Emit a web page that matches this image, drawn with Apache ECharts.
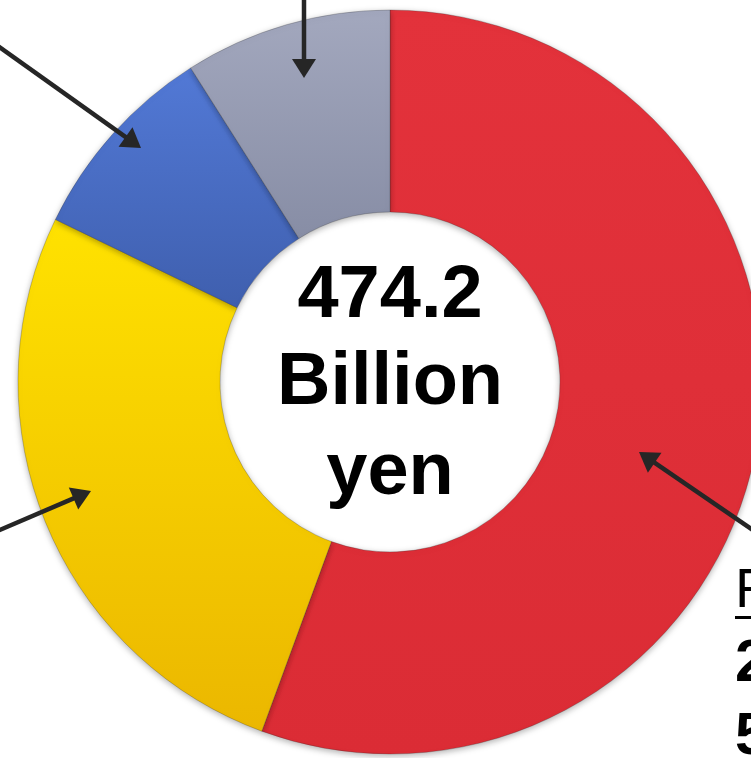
<!DOCTYPE html>
<html>
<head>
<meta charset="utf-8">
<style>
html,body{margin:0;padding:0;background:#fff;}
#chart{width:751px;height:758px;}
</style>
<script src="https://cdn.jsdelivr.net/npm/echarts@6/dist/echarts.min.js"></script>
</head>
<body>
<div id="chart"></div>
<script>
// Data (shares of total, %)
const categories = ['Segment R', 'Segment Y', 'Segment B', 'Segment G'];
const shares = [55.6, 26.6, 8.8, 9.0];
const totalLabel = ['474.2', 'Billion', 'yen'];
const sideLabel = ['Revenue', '263.7', '55.6%'];

const topColors = ['#E3323B', '#FFE200', '#5279D6', '#A3A8BE'];
const bottomColors = ['#DB2C35', '#EBB700', '#3F5FAE', '#878DA5'];

const chart = echarts.init(document.getElementById('chart'));

function arrow(x1, y1, x2, y2) {
  const dx = x2 - x1, dy = y2 - y1;
  const len = Math.sqrt(dx * dx + dy * dy);
  const ux = dx / len, uy = dy / len;
  const hl = 19, hw = 12;
  const bx = x2 - ux * hl, by = y2 - uy * hl;
  return [
    { type: 'line', shape: { x1: x1, y1: y1, x2: bx + ux * 2, y2: by + uy * 2 },
      style: { stroke: '#262626', lineWidth: 4.5 }, z: 10 },
    { type: 'polygon', shape: { points: [[x2, y2], [bx - uy * hw, by + ux * hw], [bx + uy * hw, by - ux * hw]] },
      style: { fill: '#262626' }, z: 10 }
  ];
}

const graphics = [].concat(
  arrow(304, -5, 304, 78),
  arrow(-5, 44, 141, 148),
  arrow(-5, 532, 91, 491),
  arrow(760, 535, 639, 452)
);

const centerLines = [297, 384, 474];
totalLabel.forEach((t, i) => {
  graphics.push({
    type: 'text', z: 20,
    style: {
      x: 390, y: centerLines[i], text: t, align: 'center', verticalAlign: 'middle',
      font: 'bold 74px "Liberation Sans", Arial, sans-serif', fill: '#000'
    }
  });
});
graphics.push({
  type: 'text', z: 20,
  style: {
    x: 735, y: 592, text: sideLabel[0], align: 'left', verticalAlign: 'middle',
    font: '56px "Liberation Sans", Arial, sans-serif', fill: '#000'
  }
});
graphics.push({
  type: 'rect', z: 20, shape: { x: 735, y: 616, width: 100, height: 3 }, style: { fill: '#000' }
});
graphics.push({
  type: 'text', z: 20,
  style: {
    x: 735, y: 664, text: sideLabel[1], align: 'left', verticalAlign: 'middle',
    font: 'bold 60px "Liberation Sans", Arial, sans-serif', fill: '#000'
  }
});
graphics.push({
  type: 'text', z: 20,
  style: {
    x: 735, y: 737, text: sideLabel[2], align: 'left', verticalAlign: 'middle',
    font: 'bold 60px "Liberation Sans", Arial, sans-serif', fill: '#000'
  }
});

chart.setOption({
  animation: false,
  backgroundColor: '#fff',
  series: [{
    type: 'pie',
    center: [390, 382],
    radius: [170, 372],
    startAngle: 90,
    clockwise: true,
    label: { show: false },
    labelLine: { show: false },
    emphasis: { disabled: true },
    data: categories.map((c, i) => ({
      name: c,
      value: shares[i],
      itemStyle: {
        color: new echarts.graphic.LinearGradient(0, 0, 0, 1, [
          { offset: 0, color: topColors[i] },
          { offset: 1, color: bottomColors[i] }
        ]),
        borderColor: 'rgba(40,40,40,0.25)',
        borderWidth: 1,
        shadowBlur: 6,
        shadowColor: 'rgba(0,0,0,0.3)',
        shadowOffsetY: 2
      }
    }))
  }],
  graphic: graphics
});
</script>
</body>
</html>
